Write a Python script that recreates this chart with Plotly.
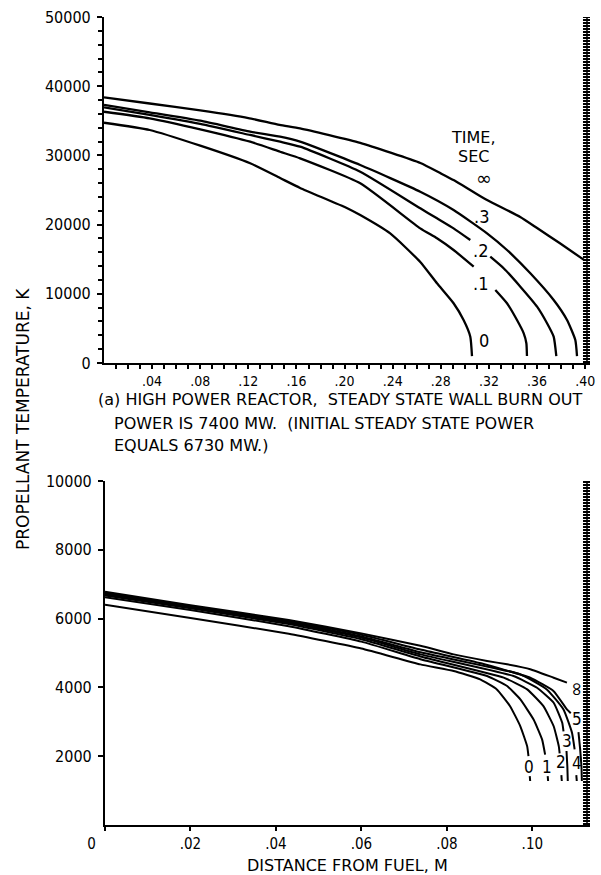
import plotly.graph_objects as go

NUM_FONT = "DejaVu Sans Condensed, DejaVu Sans, sans-serif"
TXT_FONT = "DejaVu Sans, sans-serif"

# ---------------- Panel (a): high power reactor ----------------
# distance from fuel (m) and propellant temperature (K) per time (sec)
a_x_0 = [0, 0.038, 0.08, 0.1215, 0.1464, 0.163, 0.2018, 0.213, 0.2379, 0.2629, 0.2768, 0.2906, 0.2989, 0.3045, 0.3059]
a_y_0 = [34720, 33670, 31400, 28860, 26730, 25300, 22400, 21370, 18720, 14600, 11520, 8630, 6210, 3800, 1000]

a_x_1 = [0, 0.038, 0.08, 0.1215, 0.1464, 0.163, 0.213, 0.2629, 0.2768, 0.2906, 0.3073, None,
         0.3253, 0.3350, 0.3433, 0.3489, 0.3511, 0.3516]
a_y_1 = [36310, 35360, 33770, 31980, 30530, 29580, 25970, 19460, 18020, 16330, 13920, None,
         10550, 8630, 6210, 4290, 2850, 1000]

a_x_2 = [0, 0.038, 0.08, 0.1215, 0.1464, 0.163, 0.213, 0.2629, 0.2768, 0.2906, 0.3045, None,
         0.3211, 0.3322, 0.3461, 0.3600, 0.3683, 0.3738, 0.3760]
a_y_2 = [36950, 35840, 34540, 32950, 31980, 31260, 27640, 22350, 20910, 19460, 17770, None,
         15360, 13690, 11030, 8140, 5740, 3800, 1000]

a_x_3 = [0, 0.038, 0.08, 0.1215, 0.1464, 0.163, 0.213, 0.2629, 0.2906, 0.3184, 0.3350, 0.3544,
         0.3738, 0.3849, 0.3918, 0.3932]
a_y_3 = [37300, 36230, 35010, 33430, 32700, 31980, 28610, 24750, 22110, 18740, 16330, 12960,
         9100, 6210, 3320, 1000]

a_x_inf = [0, 0.038, 0.08, 0.12, 0.146, 0.163, 0.213, 0.263, 0.28, 0.291, 0.318, 0.346, 0.36, 0.379, 0.399]
a_y_inf = [38400, 37500, 36500, 35400, 34400, 33900, 31800, 28900, 27400, 26400, 23600, 21100, 19500, 17300, 14900]

a_labels = [".3", ".2", ".1", "0"]
a_label_x = [0.3142, 0.3128, 0.3128, 0.3156]
a_label_y = [21140, 16330, 11520, 3320]

a_xtick_vals = [0.04, 0.08, 0.12, 0.16, 0.20, 0.24, 0.28, 0.32, 0.36, 0.40]
a_xtick_text = [".04", ".08", ".12", ".16", ".20", ".24", ".28", ".32", ".36", ".40"]
a_ytick_vals = [0, 10000, 20000, 30000, 40000, 50000]
a_ytick_text = ["0", "10000", "20000", "30000", "40000", "50000"]

# ---------------- Panel (b) ----------------
b_x_0 = [0, 0.02, 0.043, 0.06, 0.0738, 0.0816, 0.0878, 0.0917, 0.0948, 0.0972, 0.0988, 0.0991, None, 0.0994, 0.0995]
b_y_0 = [6400, 6020, 5560, 5130, 4670, 4477, 4234, 3942, 3454, 2870, 2286, 2000, None, 1420, 1280]

b_x_1 = [0, 0.02, 0.043, 0.06, 0.0738, 0.0894, 0.0941, 0.0972, 0.1003, 0.1023, 0.1030, None, 0.1036, 0.1037]
b_y_1 = [6620, 6250, 5780, 5330, 4820, 4330, 4040, 3650, 3066, 2482, 2044, None, 1420, 1280]

b_x_2 = [0, 0.02, 0.043, 0.06, 0.0738, 0.0933, 0.0988, 0.1026, 0.1050, 0.1062, 0.1064, None, 0.1068, 0.1069]
b_y_2 = [6670, 6300, 5840, 5400, 4900, 4283, 3942, 3454, 2870, 2286, 2080, None, 1450, 1280]

b_x_3 = [0, 0.02, 0.043, 0.06, 0.0738, 0.0956, 0.1011, 0.1050, 0.1070, 0.1073, None, 0.1080, 0.1082, 0.1083]
b_y_3 = [6700, 6330, 5880, 5450, 4960, 4330, 3990, 3554, 2970, 2720, None, 2150, 1700, 1280]

b_x_4 = [0, 0.02, 0.043, 0.06, 0.0738, 0.0972, 0.1034, 0.1073, 0.1093, 0.1099, None, 0.1103, 0.1104]
b_y_4 = [6720, 6350, 5910, 5480, 5020, 4380, 3942, 3358, 2678, 2200, None, 1450, 1280]

b_x_5 = [0, 0.02, 0.043, 0.06, 0.0738, 0.088, 0.0995, 0.1050, 0.1081, 0.1090, None,
         0.1108, 0.1112, 0.1115, 0.1116]
b_y_5 = [6750, 6360, 5930, 5530, 5100, 4700, 4280, 3890, 3360, 3250, None,
         2700, 2200, 1700, 1280]

b_x_inf = [0, 0.02, 0.043, 0.06, 0.0738, 0.0816, 0.0894, 0.0941, 0.0995, 0.1050, 0.1081]
b_y_inf = [6780, 6390, 5960, 5570, 5210, 4960, 4770, 4670, 4530, 4280, 4140]

b_labels = ["0", "1", "2", "3", "4", "5"]
b_label_x = [0.0993, 0.1034, 0.1068, 0.1082, 0.1105, 0.1105]
b_label_y = [1680, 1680, 1820, 2450, 1800, 3070]

b_xtick_vals = [0, 0.02, 0.04, 0.06, 0.08, 0.10]
b_xtick_text = ["0\u2003\u2003", ".02", ".04", ".06", ".08", ".10"]
b_ytick_vals = [2000, 4000, 6000, 8000, 10000]
b_ytick_text = ["2000", "4000", "6000", "8000", "10000"]

fig = go.Figure()
for xs, ys in [(a_x_0, a_y_0), (a_x_1, a_y_1), (a_x_2, a_y_2), (a_x_3, a_y_3), (a_x_inf, a_y_inf)]:
    fig.add_trace(go.Scatter(x=xs, y=ys, mode="lines",
                             line=dict(color="black", width=2.3, shape="spline", smoothing=0.5),
                             xaxis="x", yaxis="y", showlegend=False, hoverinfo="skip"))
for xs, ys in [(b_x_0, b_y_0), (b_x_1, b_y_1), (b_x_2, b_y_2), (b_x_3, b_y_3),
               (b_x_4, b_y_4), (b_x_5, b_y_5), (b_x_inf, b_y_inf)]:
    fig.add_trace(go.Scatter(x=xs, y=ys, mode="lines",
                             line=dict(color="black", width=2.0, shape="spline", smoothing=0.4),
                             xaxis="x2", yaxis="y2", showlegend=False, hoverinfo="skip"))

axis_common = dict(showgrid=False, zeroline=False, showline=True, linecolor="black", linewidth=2.2,
                   ticks="outside", ticklen=5, tickwidth=2, tickcolor="black",
                   tickfont=dict(family=NUM_FONT, size=16, color="black"), automargin=False,
                   fixedrange=True)

fig.update_layout(
    width=601, height=875,
    margin=dict(l=0, r=0, t=0, b=0),
    paper_bgcolor="white", plot_bgcolor="white",
    font=dict(family=TXT_FONT, size=15, color="black"),
    xaxis=dict(axis_common, domain=[104 / 601, 590 / 601], range=[0, 0.404], anchor="y",
               tickmode="array", tickvals=a_xtick_vals, ticktext=a_xtick_text,
               ticklabelstandoff=0, ticklen=4,
               tickfont=dict(family=NUM_FONT, size=14, color="black"),
               minor=dict(tickmode="array", tickvals=[i / 100 for i in range(1, 41)],
                          ticks="outside", ticklen=4, tickcolor="black", tickwidth=1.6)),
    yaxis=dict(axis_common, domain=[1 - 363 / 875, 1 - 17 / 875], range=[0, 50000], anchor="x",
               tickmode="array", tickvals=a_ytick_vals, ticktext=a_ytick_text,
               ticklabelstandoff=3,
               minor=dict(tickmode="array", tickvals=[i * 2000 for i in range(1, 26)],
                          ticks="outside", ticklen=4, tickcolor="black", tickwidth=1.6)),
    xaxis2=dict(axis_common, domain=[105 / 601, 590 / 601], range=[0, 0.1135], anchor="y2",
                tickmode="array", tickvals=b_xtick_vals, ticktext=b_xtick_text,
                ticklabelstandoff=0, ticklen=4,
                tickfont=dict(family=NUM_FONT, size=15, color="black")),
    yaxis2=dict(axis_common, domain=[1 - 825 / 875, 1 - 481 / 875], range=[0, 10000], anchor="x2",
                tickmode="array", tickvals=b_ytick_vals, ticktext=b_ytick_text,
                ticklabelstandoff=3),
)

# hatched wall at the right edge of each panel
for xr, yr, xw in [("x", "y domain", 0.4015), ("x2", "y2 domain", 0.1128)]:
    fig.add_shape(type="line", xref=xr, yref=yr, x0=xw, x1=xw, y0=0, y1=1,
                  line=dict(color="black", width=8, dash="2px,1px"))
    fig.add_shape(type="line", xref=xr, yref=yr, x0=xw, x1=xw, y0=0, y1=1,
                  line=dict(color="black", width=1.5))

ann = []
# panel (a) curve labels
ann.append(dict(x=0.307, y=32600, xref="x", yref="y", text="TIME,", showarrow=False,
                font=dict(size=16)))
ann.append(dict(x=0.307, y=29900, xref="x", yref="y", text="SEC", showarrow=False,
                font=dict(size=16)))
ann.append(dict(x=0.316, y=26700, xref="x", yref="y", text="\u221e", showarrow=False,
                font=dict(size=19)))
for t, x, y in zip(a_labels, a_label_x, a_label_y):
    ann.append(dict(x=x, y=y, xref="x", yref="y", text=t, showarrow=False,
                    font=dict(family=NUM_FONT, size=18)))
# panel (b) curve labels
for t, x, y in zip(b_labels, b_label_x, b_label_y):
    ann.append(dict(x=x, y=y, xref="x2", yref="y2", text=t, showarrow=False,
                    font=dict(family=NUM_FONT, size=17)))
ann.append(dict(x=0.1105, y=3940, xref="x2", yref="y2", text="\u221e", showarrow=False,
                textangle=90, font=dict(size=19)))

# caption of panel (a)
caption = ["(a) HIGH POWER REACTOR,  STEADY STATE WALL BURN OUT",
           "POWER IS 7400 MW.  (INITIAL STEADY STATE POWER",
           "EQUALS 6730 MW.)"]
cap_x = [96, 112, 112]
cap_y = [400, 423, 446]
for t, x, y in zip(caption, cap_x, cap_y):
    ann.append(dict(x=x / 601, y=1 - y / 875, xref="paper", yref="paper", text=t,
                    xanchor="left", yanchor="middle", showarrow=False, font=dict(size=16)))

# shared axis titles
ann.append(dict(x=23 / 601, y=1 - 419 / 875, xref="paper", yref="paper",
                text="PROPELLANT TEMPERATURE, K", textangle=-90, showarrow=False,
                xanchor="center", yanchor="middle", font=dict(size=17)))
ann.append(dict(x=347 / 601, y=1 - 865 / 875, xref="paper", yref="paper",
                text="DISTANCE FROM FUEL, M", showarrow=False,
                xanchor="center", yanchor="middle", font=dict(size=16)))

fig.update_layout(annotations=ann)

fig.write_html("out.html", config={"displayModeBar": False, "responsive": False},
               post_script="document.body.style.margin='0px';")
